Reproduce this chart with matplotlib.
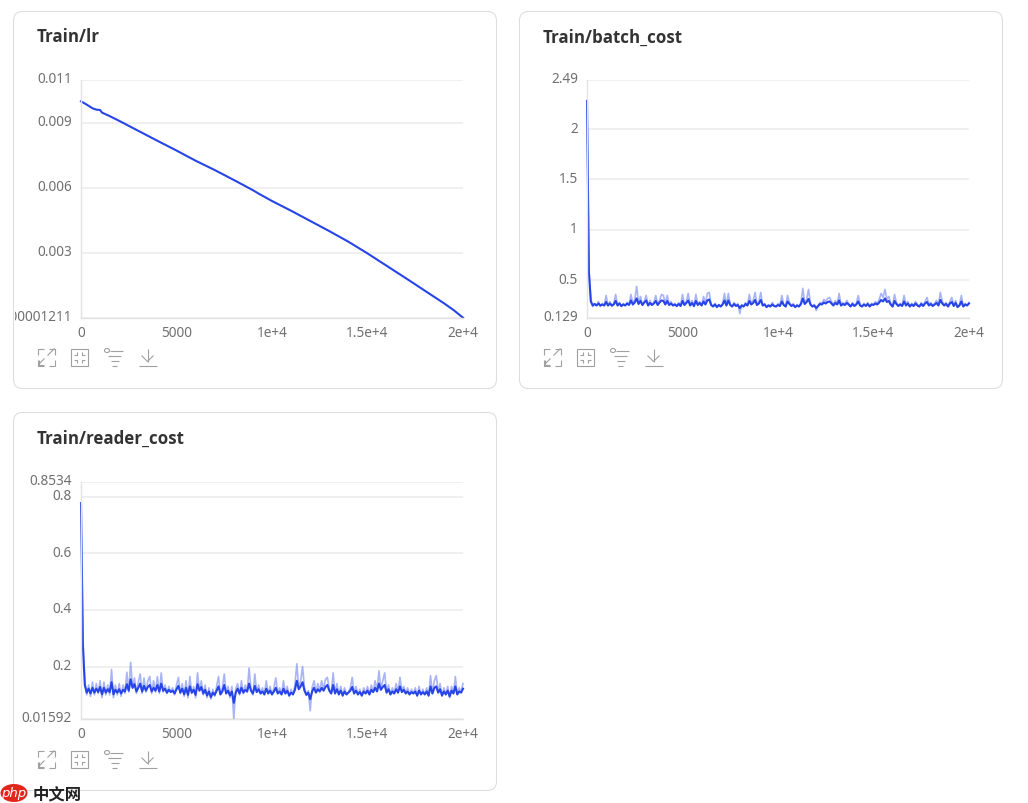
import numpy as np
import matplotlib
matplotlib.use('Agg')
import matplotlib.pyplot as plt
from matplotlib.patches import FancyBboxPatch, Ellipse, Rectangle
from matplotlib.transforms import Bbox, ScaledTranslation

plt.rcParams['font.family'] = ['Noto Sans', 'DejaVu Sans']

W, H = 1028, 804
LINE = '#2644E8'

# Train/lr
lr_x = [0, 300, 600, 800, 1000, 1100, 1500, 2000, 3000, 4000, 5000, 6000, 7000, 8000, 9000, 9300,
        10000, 11000, 12000, 13000, 14000, 15000, 16000, 17000, 18000, 19000, 19500, 20000]
lr_y = [0.01000, 0.00985, 0.00968, 0.00962, 0.00960, 0.00948, 0.00932, 0.00910, 0.00864, 0.00818, 0.00773,
        0.00726, 0.00683, 0.00637, 0.00590, 0.00574, 0.00540, 0.00495, 0.00448, 0.00401, 0.00352,
        0.00298, 0.00241, 0.00184, 0.00126, 0.00068, 0.00037, 0.00001211]

# raw values, one every 100 steps
raw_x = list(range(0, 20001, 100))
batch_raw = [2.28, 0.62, 0.32, 0.24, 0.27, 0.25, 0.29, 0.24, 0.27, 0.25,
             0.35, 0.25, 0.29, 0.24, 0.27, 0.36, 0.25, 0.28, 0.24, 0.27,
             0.25, 0.28, 0.26, 0.36, 0.27, 0.31, 0.44, 0.27, 0.34, 0.26,
             0.29, 0.35, 0.25, 0.30, 0.26, 0.28, 0.35, 0.26, 0.30, 0.36,
             0.35, 0.27, 0.35, 0.26, 0.29, 0.25, 0.27, 0.24, 0.28, 0.25,
             0.36, 0.26, 0.29, 0.37, 0.25, 0.30, 0.24, 0.36, 0.26, 0.29,
             0.25, 0.34, 0.27, 0.37, 0.38, 0.26, 0.24, 0.27, 0.23, 0.26,
             0.24, 0.27, 0.37, 0.25, 0.37, 0.26, 0.24, 0.28, 0.25, 0.27,
             0.17, 0.26, 0.24, 0.28, 0.25, 0.36, 0.27, 0.30, 0.38, 0.26,
             0.29, 0.38, 0.25, 0.27, 0.23, 0.26, 0.24, 0.28, 0.25, 0.24,
             0.27, 0.25, 0.35, 0.26, 0.24, 0.35, 0.28, 0.25, 0.27, 0.23,
             0.26, 0.24, 0.28, 0.42, 0.27, 0.31, 0.41, 0.27, 0.24, 0.26,
             0.20, 0.25, 0.28, 0.27, 0.31, 0.29, 0.32, 0.33, 0.29, 0.26,
             0.30, 0.27, 0.37, 0.25, 0.28, 0.26, 0.30, 0.27, 0.24, 0.28,
             0.25, 0.27, 0.35, 0.26, 0.24, 0.27, 0.25, 0.28, 0.24, 0.27,
             0.26, 0.29, 0.27, 0.31, 0.37, 0.33, 0.41, 0.31, 0.34, 0.27,
             0.24, 0.36, 0.28, 0.25, 0.27, 0.25, 0.35, 0.26, 0.29, 0.24,
             0.27, 0.25, 0.29, 0.26, 0.24, 0.28, 0.25, 0.29, 0.33, 0.26,
             0.28, 0.25, 0.27, 0.30, 0.26, 0.38, 0.29, 0.26, 0.28, 0.24,
             0.29, 0.33, 0.25, 0.30, 0.23, 0.26, 0.35, 0.24, 0.27, 0.25,
             0.28]
reader_raw = [0.778, 0.30, 0.15, 0.10, 0.135, 0.095, 0.145, 0.10, 0.14, 0.105,
              0.15, 0.09, 0.145, 0.10, 0.135, 0.10, 0.19, 0.09, 0.135, 0.10,
              0.14, 0.095, 0.135, 0.105, 0.18, 0.11, 0.215, 0.125, 0.16, 0.105,
              0.145, 0.174, 0.105, 0.16, 0.11, 0.15, 0.165, 0.105, 0.15, 0.11,
              0.165, 0.105, 0.178, 0.11, 0.135, 0.105, 0.13, 0.11, 0.125, 0.10,
              0.135, 0.162, 0.105, 0.14, 0.095, 0.15, 0.09, 0.165, 0.105, 0.13,
              0.09, 0.178, 0.115, 0.15, 0.10, 0.135, 0.09, 0.125, 0.085, 0.12,
              0.095, 0.13, 0.165, 0.10, 0.125, 0.174, 0.105, 0.13, 0.09, 0.13,
              0.015, 0.12, 0.14, 0.10, 0.15, 0.105, 0.135, 0.11, 0.195, 0.12,
              0.10, 0.174, 0.11, 0.135, 0.105, 0.125, 0.10, 0.15, 0.105, 0.13,
              0.10, 0.125, 0.16, 0.105, 0.125, 0.10, 0.15, 0.105, 0.13, 0.095,
              0.12, 0.10, 0.135, 0.21, 0.125, 0.15, 0.20, 0.125, 0.10, 0.115,
              0.044, 0.125, 0.15, 0.11, 0.14, 0.115, 0.15, 0.12, 0.155, 0.162,
              0.12, 0.105, 0.178, 0.105, 0.14, 0.10, 0.13, 0.095, 0.125, 0.10,
              0.11, 0.125, 0.162, 0.105, 0.13, 0.10, 0.12, 0.095, 0.125, 0.105,
              0.13, 0.10, 0.135, 0.11, 0.15, 0.115, 0.185, 0.12, 0.15, 0.178,
              0.11, 0.135, 0.10, 0.125, 0.105, 0.14, 0.11, 0.162, 0.115, 0.13,
              0.105, 0.125, 0.10, 0.12, 0.105, 0.125, 0.095, 0.13, 0.10, 0.12,
              0.10, 0.125, 0.095, 0.168, 0.105, 0.15, 0.168, 0.11, 0.14, 0.095,
              0.125, 0.10, 0.13, 0.09, 0.13, 0.105, 0.165, 0.10, 0.125, 0.11,
              0.14]

# smoothed curves, same steps
batch_smooth = [2.28, 0.58, 0.29, 0.25, 0.265, 0.25, 0.27, 0.25, 0.26, 0.25,
                0.285, 0.25, 0.27, 0.25, 0.26, 0.295, 0.25, 0.27, 0.245, 0.26,
                0.25, 0.27, 0.255, 0.30, 0.26, 0.28, 0.32, 0.265, 0.295, 0.255,
                0.28, 0.30, 0.25, 0.275, 0.255, 0.27, 0.295, 0.255, 0.28, 0.30,
                0.295, 0.26, 0.295, 0.255, 0.27, 0.25, 0.26, 0.245, 0.265, 0.245,
                0.295, 0.255, 0.275, 0.30, 0.25, 0.275, 0.245, 0.295, 0.255, 0.275,
                0.25, 0.29, 0.26, 0.30, 0.31, 0.255, 0.24, 0.26, 0.235, 0.255,
                0.24, 0.26, 0.30, 0.25, 0.30, 0.255, 0.24, 0.265, 0.245, 0.255,
                0.225, 0.25, 0.24, 0.265, 0.25, 0.295, 0.26, 0.275, 0.305, 0.255,
                0.27, 0.305, 0.25, 0.26, 0.235, 0.25, 0.24, 0.26, 0.245, 0.24,
                0.255, 0.245, 0.29, 0.255, 0.24, 0.29, 0.265, 0.245, 0.255, 0.235,
                0.25, 0.24, 0.265, 0.32, 0.265, 0.285, 0.315, 0.26, 0.24, 0.25,
                0.225, 0.245, 0.265, 0.26, 0.28, 0.27, 0.285, 0.29, 0.27, 0.25,
                0.275, 0.26, 0.30, 0.25, 0.265, 0.255, 0.275, 0.26, 0.24, 0.265,
                0.245, 0.26, 0.29, 0.25, 0.24, 0.26, 0.245, 0.265, 0.24, 0.26,
                0.255, 0.27, 0.26, 0.28, 0.305, 0.29, 0.32, 0.285, 0.295, 0.26,
                0.24, 0.295, 0.265, 0.245, 0.26, 0.245, 0.29, 0.25, 0.27, 0.24,
                0.26, 0.245, 0.27, 0.25, 0.24, 0.265, 0.245, 0.27, 0.285, 0.25,
                0.265, 0.245, 0.26, 0.275, 0.25, 0.305, 0.27, 0.25, 0.265, 0.24,
                0.27, 0.285, 0.245, 0.275, 0.235, 0.25, 0.29, 0.24, 0.26, 0.25,
                0.27]
reader_smooth = [0.778, 0.27, 0.135, 0.108, 0.122, 0.105, 0.125, 0.108, 0.122, 0.11,
                 0.128, 0.102, 0.125, 0.108, 0.12, 0.11, 0.145, 0.102, 0.118, 0.108,
                 0.12, 0.105, 0.118, 0.112, 0.138, 0.115, 0.155, 0.125, 0.138, 0.112,
                 0.125, 0.14, 0.112, 0.132, 0.115, 0.128, 0.135, 0.112, 0.125, 0.115,
                 0.135, 0.112, 0.14, 0.115, 0.122, 0.108, 0.118, 0.11, 0.115, 0.105,
                 0.12, 0.132, 0.108, 0.122, 0.102, 0.125, 0.10, 0.13, 0.108, 0.118,
                 0.10, 0.138, 0.115, 0.128, 0.105, 0.118, 0.098, 0.112, 0.092, 0.108,
                 0.10, 0.115, 0.13, 0.102, 0.112, 0.135, 0.105, 0.115, 0.098, 0.112,
                 0.072, 0.108, 0.122, 0.105, 0.125, 0.108, 0.118, 0.112, 0.14, 0.115,
                 0.105, 0.132, 0.11, 0.12, 0.105, 0.112, 0.102, 0.122, 0.105, 0.115,
                 0.102, 0.112, 0.125, 0.105, 0.112, 0.102, 0.122, 0.105, 0.115, 0.098,
                 0.108, 0.102, 0.118, 0.15, 0.12, 0.13, 0.145, 0.115, 0.10, 0.108,
                 0.085, 0.112, 0.125, 0.108, 0.12, 0.112, 0.125, 0.115, 0.128, 0.135,
                 0.115, 0.105, 0.135, 0.105, 0.12, 0.102, 0.115, 0.098, 0.112, 0.102,
                 0.108, 0.115, 0.128, 0.105, 0.115, 0.102, 0.11, 0.098, 0.112, 0.105,
                 0.115, 0.102, 0.118, 0.11, 0.125, 0.112, 0.14, 0.118, 0.128, 0.135,
                 0.108, 0.12, 0.102, 0.112, 0.105, 0.12, 0.108, 0.13, 0.11, 0.118,
                 0.105, 0.112, 0.102, 0.11, 0.105, 0.112, 0.098, 0.115, 0.102, 0.11,
                 0.102, 0.112, 0.098, 0.13, 0.105, 0.125, 0.13, 0.108, 0.12, 0.098,
                 0.112, 0.102, 0.115, 0.095, 0.115, 0.105, 0.13, 0.102, 0.112, 0.108,
                 0.122]

x_ticks = [0, 5000, 10000, 15000, 20000]
x_tick_labels = ['0', '5000', '1e+4', '1.5e+4', '2e+4']

fig = plt.figure(figsize=(W / 100, H / 100), dpi=100)

# page layer in pixel coordinates, for cards and toolbar icons
bg = fig.add_axes([0, 0, 1, 1], zorder=0)
bg.set_xlim(0, W)
bg.set_ylim(H, 0)
bg.axis('off')


def card(x0, y0, x1, y1, title):
    bg.add_patch(FancyBboxPatch((x0, y0), x1 - x0, y1 - y0, boxstyle='round,pad=0,rounding_size=9',
                                fc='white', ec='#dddddd', lw=0.75))
    bg.text(x0 + 23, y0 + 25, title, fontsize=12.2, fontweight='bold', color='#333333', va='center', ha='left',
            family=['Open Sans', 'DejaVu Sans'])


def seg(xs, ys, ox, oy):
    bg.plot(np.array(xs) + ox, np.array(ys) + oy, color='#a0a0a0', lw=0.8, solid_capstyle='butt')


def icons(ox, oy):
    # expand
    seg([0, 0, 6], [6, 0, 0], ox, oy)
    seg([17, 17], [11, 17], ox, oy)
    seg([11, 17], [17, 17], ox, oy)
    seg([0, 0, 6], [11, 17, 17], ox, oy)
    seg([10, 17], [7, 0], ox, oy)
    seg([11, 17, 17], [0, 0, 6], ox, oy)
    seg([1, 7], [16, 10], ox, oy)
    seg([1, 1, 6], [11, 16, 16], ox, oy)
    # fit
    ox2 = ox + 33
    bg.add_patch(Rectangle((ox2, oy), 17, 17, fc='none', ec='#a0a0a0', lw=0.8))
    seg([6, 6, 3], [3, 6, 6], ox2, oy)
    seg([11, 11, 14], [3, 6, 6], ox2, oy)
    seg([6, 6, 3], [14, 11, 11], ox2, oy)
    seg([11, 11, 14], [14, 11, 11], ox2, oy)
    # filter
    ox3 = ox + 67
    bg.add_patch(Ellipse((ox3 + 2.5, oy + 2), 5, 4, fc='none', ec='#a0a0a0', lw=0.8))
    seg([5, 18], [2, 2], ox3, oy)
    seg([3, 16], [7, 7], ox3, oy)
    seg([6, 14], [12, 12], ox3, oy)
    seg([7, 12], [17, 17], ox3, oy)
    # download
    ox4 = ox + 101
    seg([9, 9], [0, 13], ox4, oy)
    seg([3, 9, 15], [7, 13, 7], ox4, oy)
    seg([0, 18], [17, 17], ox4, oy)


def panel(x0, y0, x1, y1, y_bottom, y_top, y_ticks, y_labels):
    ax = fig.add_axes([x0 / W, 1 - y1 / H, (x1 - x0) / W, (y1 - y0) / H], zorder=2)
    ax.patch.set_alpha(0)
    ax.set_xlim(0, 20000)
    ax.set_ylim(y_bottom, y_top)
    ax.set_xticks(x_ticks, x_tick_labels)
    ax.set_yticks(y_ticks, y_labels)
    ax.tick_params(length=0, labelsize=9.8, labelcolor='#707070')
    ax.tick_params(axis='x', pad=5)
    ax.tick_params(axis='y', pad=6.5)
    ax.grid(axis='y', color='#ececec', lw=1.1)
    ax.set_axisbelow(True)
    for s in ['top', 'right']:
        ax.spines[s].set_visible(False)
    for s in ['left', 'bottom']:
        ax.spines[s].set_color('#e2e2e2')
        ax.spines[s].set_linewidth(1.0)
    up = ScaledTranslation(0, 2.2 / 72, fig.dpi_scale_trans)
    for lab in ax.get_yticklabels():
        lab.set_transform(lab.get_transform() + up)
    return ax


card(13.5, 12.5, 496.5, 389.5, 'Train/lr')
card(519.5, 12.5, 1002.5, 389.5, 'Train/batch_cost')
card(13.5, 413.5, 496.5, 791.5, 'Train/reader_cost')
icons(37.5, 349.5)
icons(543.5, 349.5)
icons(37.5, 751.5)

ax1 = panel(81, 80.7, 463, 318.7, 0.00001211, 0.011, [0.00001211, 0.003, 0.006, 0.009, 0.011],
            ['0.00001211', '0.003', '0.006', '0.009', '0.011'])
ax1.plot(lr_x, lr_y, color=LINE, lw=1.5, clip_on=False)
# the long label is cut by the card edge in the original
lab = ax1.get_yticklabels()[0]
lab.set_clip_on(True)
lab.set_clip_box(Bbox([[15, 0], [W, H]]))

ax2 = panel(587, 80.7, 969, 318.7, 0.129, 2.49, [0.129, 0.5, 1, 1.5, 2, 2.49],
            ['0.129', '0.5', '1', '1.5', '2', '2.49'])
ax2.plot(raw_x, batch_raw, color=LINE, lw=1.2, alpha=0.4, clip_on=False)
ax2.plot(raw_x, batch_smooth, color=LINE, lw=1.5, clip_on=False)

ax3 = panel(81, 482.7, 463, 719.7, 0.01592, 0.8534, [0.01592, 0.2, 0.4, 0.6, 0.8, 0.8534],
            ['0.01592', '0.2', '0.4', '0.6', '0.8', '0.8534'])
ax3.plot(raw_x, reader_raw, color=LINE, lw=1.2, alpha=0.4, clip_on=False)
ax3.plot(raw_x, reader_smooth, color=LINE, lw=1.5, clip_on=False)

# site watermark
bg.add_patch(Ellipse((14, 794), 27, 18, fc='#e3261c', ec='none', zorder=5))
bg.text(14, 793.5, 'php', color='white', fontsize=9.5, style='italic', ha='center', va='center', zorder=6,
        family=['DejaVu Sans'])
bg.text(33, 794, '中文网', color='#222222', fontsize=11.8, fontweight='bold', ha='left', va='center', zorder=6,
        family=['Noto Sans CJK SC', 'DejaVu Sans'])

fig.savefig('out.png', dpi=100)
